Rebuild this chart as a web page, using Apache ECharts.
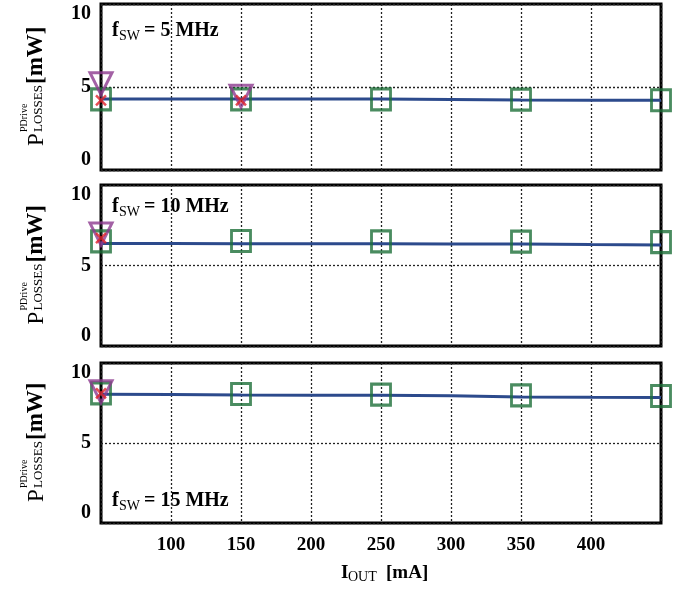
<!DOCTYPE html>
<html><head><meta charset="utf-8">
<script src="https://cdn.jsdelivr.net/npm/echarts@6/dist/echarts.min.js"></script>
<style>html,body{margin:0;padding:0;background:#fff}#c{width:693px;height:589px}</style>
</head><body><div id="c"></div>
<script>
// ---- data ----
const currents = [50,100,150,200,250,300,350,400,450];
const measCurrents = [50,150,250,350,450];
const triCurrents5 = [50,150];
const triCurrents = [50];
const panelLabels = ['5 MHz','10 MHz','15 MHz'];

const line5 = [4.28,4.28,4.27,4.27,4.27,4.24,4.21,4.2,4.2];
const squares5 = [4.25,4.25,4.25,4.24,4.2];
const triangles5 = [5.2,4.45];
const crosses5 = [4.2,4.2];

const line10 = [6.36,6.36,6.35,6.35,6.35,6.34,6.33,6.3,6.28];
const squares10 = [6.5,6.52,6.5,6.48,6.45];
const triangles10 = [6.95];
const crosses10 = [6.7];

const line15 = [8.04,8.03,8.0,7.99,7.98,7.96,7.88,7.86,7.85];
const squares15 = [8.1,8.06,8.02,7.98,7.94];
const triangles15 = [8.2];
const crosses15 = [8.1];

const lines = [line5,line10,line15];
const squares = [squares5,squares10,squares15];
const triangles = [triangles5,triangles10,triangles15];
const triX = [triCurrents5,triCurrents,triCurrents];
const crosses = [crosses5,crosses10,crosses15];

// ---- layout ----
const FONT = '"Liberation Serif","Times New Roman",serif';
const tops = [4,185,363], heights = [166,161,160];
const labelMid = [31,207,501];
const chart = echarts.init(document.getElementById('c'));

const grids=[],xAxes=[],yAxes=[],series=[],graphics=[];
for(let i=0;i<3;i++){
  grids.push({left:101,width:560,top:tops[i],height:heights[i],show:true,borderColor:'#000',borderWidth:3,backgroundColor:'transparent',outerBoundsMode:'none',containLabel:false});
  xAxes.push({type:'value',gridIndex:i,min:50,max:450,interval:50,
    axisLine:{show:false},axisTick:{show:false},
    axisLabel:{show:i===2,margin:13,color:'#000',fontFamily:FONT,fontWeight:'bold',fontSize:19,
      formatter:v=>(v===50||v===450)?'':String(v)},
    splitLine:{show:true,lineStyle:{color:'#222',type:[2,2],width:1.3}}});
  const rs={fontFamily:FONT,fontWeight:'bold',fontSize:20,color:'#000'};
  yAxes.push({type:'value',gridIndex:i,min:0,max:10,interval:5,
    axisLine:{show:false},axisTick:{show:false},
    axisLabel:{margin:10,color:'#000',fontFamily:FONT,fontWeight:'bold',fontSize:20,lineHeight:20,
      formatter:v=>v===10?'{e|}\n{m|10}':(v===0?'{m|0}\n{e|}':'{m|'+v+'}'),
      rich:{e:{height:18,fontSize:10},m:rs}},
    splitLine:{show:true,lineStyle:{color:'#222',type:[2,2],width:1.3}}});
  series.push({type:'line',xAxisIndex:i,yAxisIndex:i,data:currents.map((x,k)=>[x,lines[i][k]]),
    symbol:'none',lineStyle:{color:'#2c4a8c',width:3},z:3,silent:true});
  series.push({type:'scatter',xAxisIndex:i,yAxisIndex:i,data:measCurrents.map((x,k)=>[x,squares[i][k]]),
    symbol:'rect',symbolSize:[19,21],clip:false,itemStyle:{color:'rgba(0,0,0,0)',borderColor:'#1d6f38',borderWidth:3},z:4});
  series.push({type:'scatter',xAxisIndex:i,yAxisIndex:i,data:triX[i].map((x,k)=>[x,triangles[i][k]]),
    symbol:'triangle',symbolRotate:180,symbolSize:[22,22],clip:false,itemStyle:{color:'rgba(0,0,0,0)',borderColor:'#8c3a8e',borderWidth:3},z:5});
  series.push({type:'scatter',xAxisIndex:i,yAxisIndex:i,data:triX[i].map((x,k)=>[x,crosses[i][k]]),
    symbol:'path://M0,0L10,10M10,0L0,10',symbolSize:10,clip:false,itemStyle:{color:'rgba(0,0,0,0)',borderColor:'#e0232b',borderWidth:2.5},z:6});

  // y axis title (rotated)
  const cy = tops[i]+heights[i]/2+59;
  graphics.push({type:'group',x:43,y:cy,rotation:Math.PI/2,children:[
    {type:'text',x:0,y:5,style:{text:'P',font:'23px '+FONT,fill:'#000',verticalAlign:'bottom'}},
    {type:'text',x:14,y:2,style:{text:'LOSSES',font:'13px '+FONT,fill:'#000',verticalAlign:'bottom'}},
    {type:'text',x:14,y:-14,style:{text:'PDrive',font:'10px '+FONT,fill:'#000',verticalAlign:'bottom'}},
    {type:'text',x:62,y:5,style:{text:'[mW]',font:'bold 23px '+FONT,fill:'#000',verticalAlign:'bottom'}}
  ]});
  // f_SW label
  graphics.push({type:'group',x:112,y:labelMid[i],children:[
    {type:'text',x:0,y:0,style:{text:'f',font:'bold 20px '+FONT,fill:'#000',verticalAlign:'middle'}},
    {type:'text',x:7,y:5,style:{text:'SW',font:'14px '+FONT,fill:'#000',verticalAlign:'middle'}},
    {type:'text',x:32,y:0,style:{text:'= '+panelLabels[i],font:'bold 20px '+FONT,fill:'#000',verticalAlign:'middle'}}
  ]});
}
// x axis title
graphics.push({type:'group',x:341,y:573,children:[
  {type:'text',x:0,y:0,style:{text:'I',font:'bold 19px '+FONT,fill:'#000',verticalAlign:'middle'}},
  {type:'text',x:7,y:4,style:{text:'OUT',font:'14px '+FONT,fill:'#000',verticalAlign:'middle'}},
  {type:'text',x:45,y:0,style:{text:'[mA]',font:'bold 19px '+FONT,fill:'#000',verticalAlign:'middle'}}
]});

chart.setOption({animation:false,grid:grids,xAxis:xAxes,yAxis:yAxes,series:series,graphic:graphics});
</script></body></html>
